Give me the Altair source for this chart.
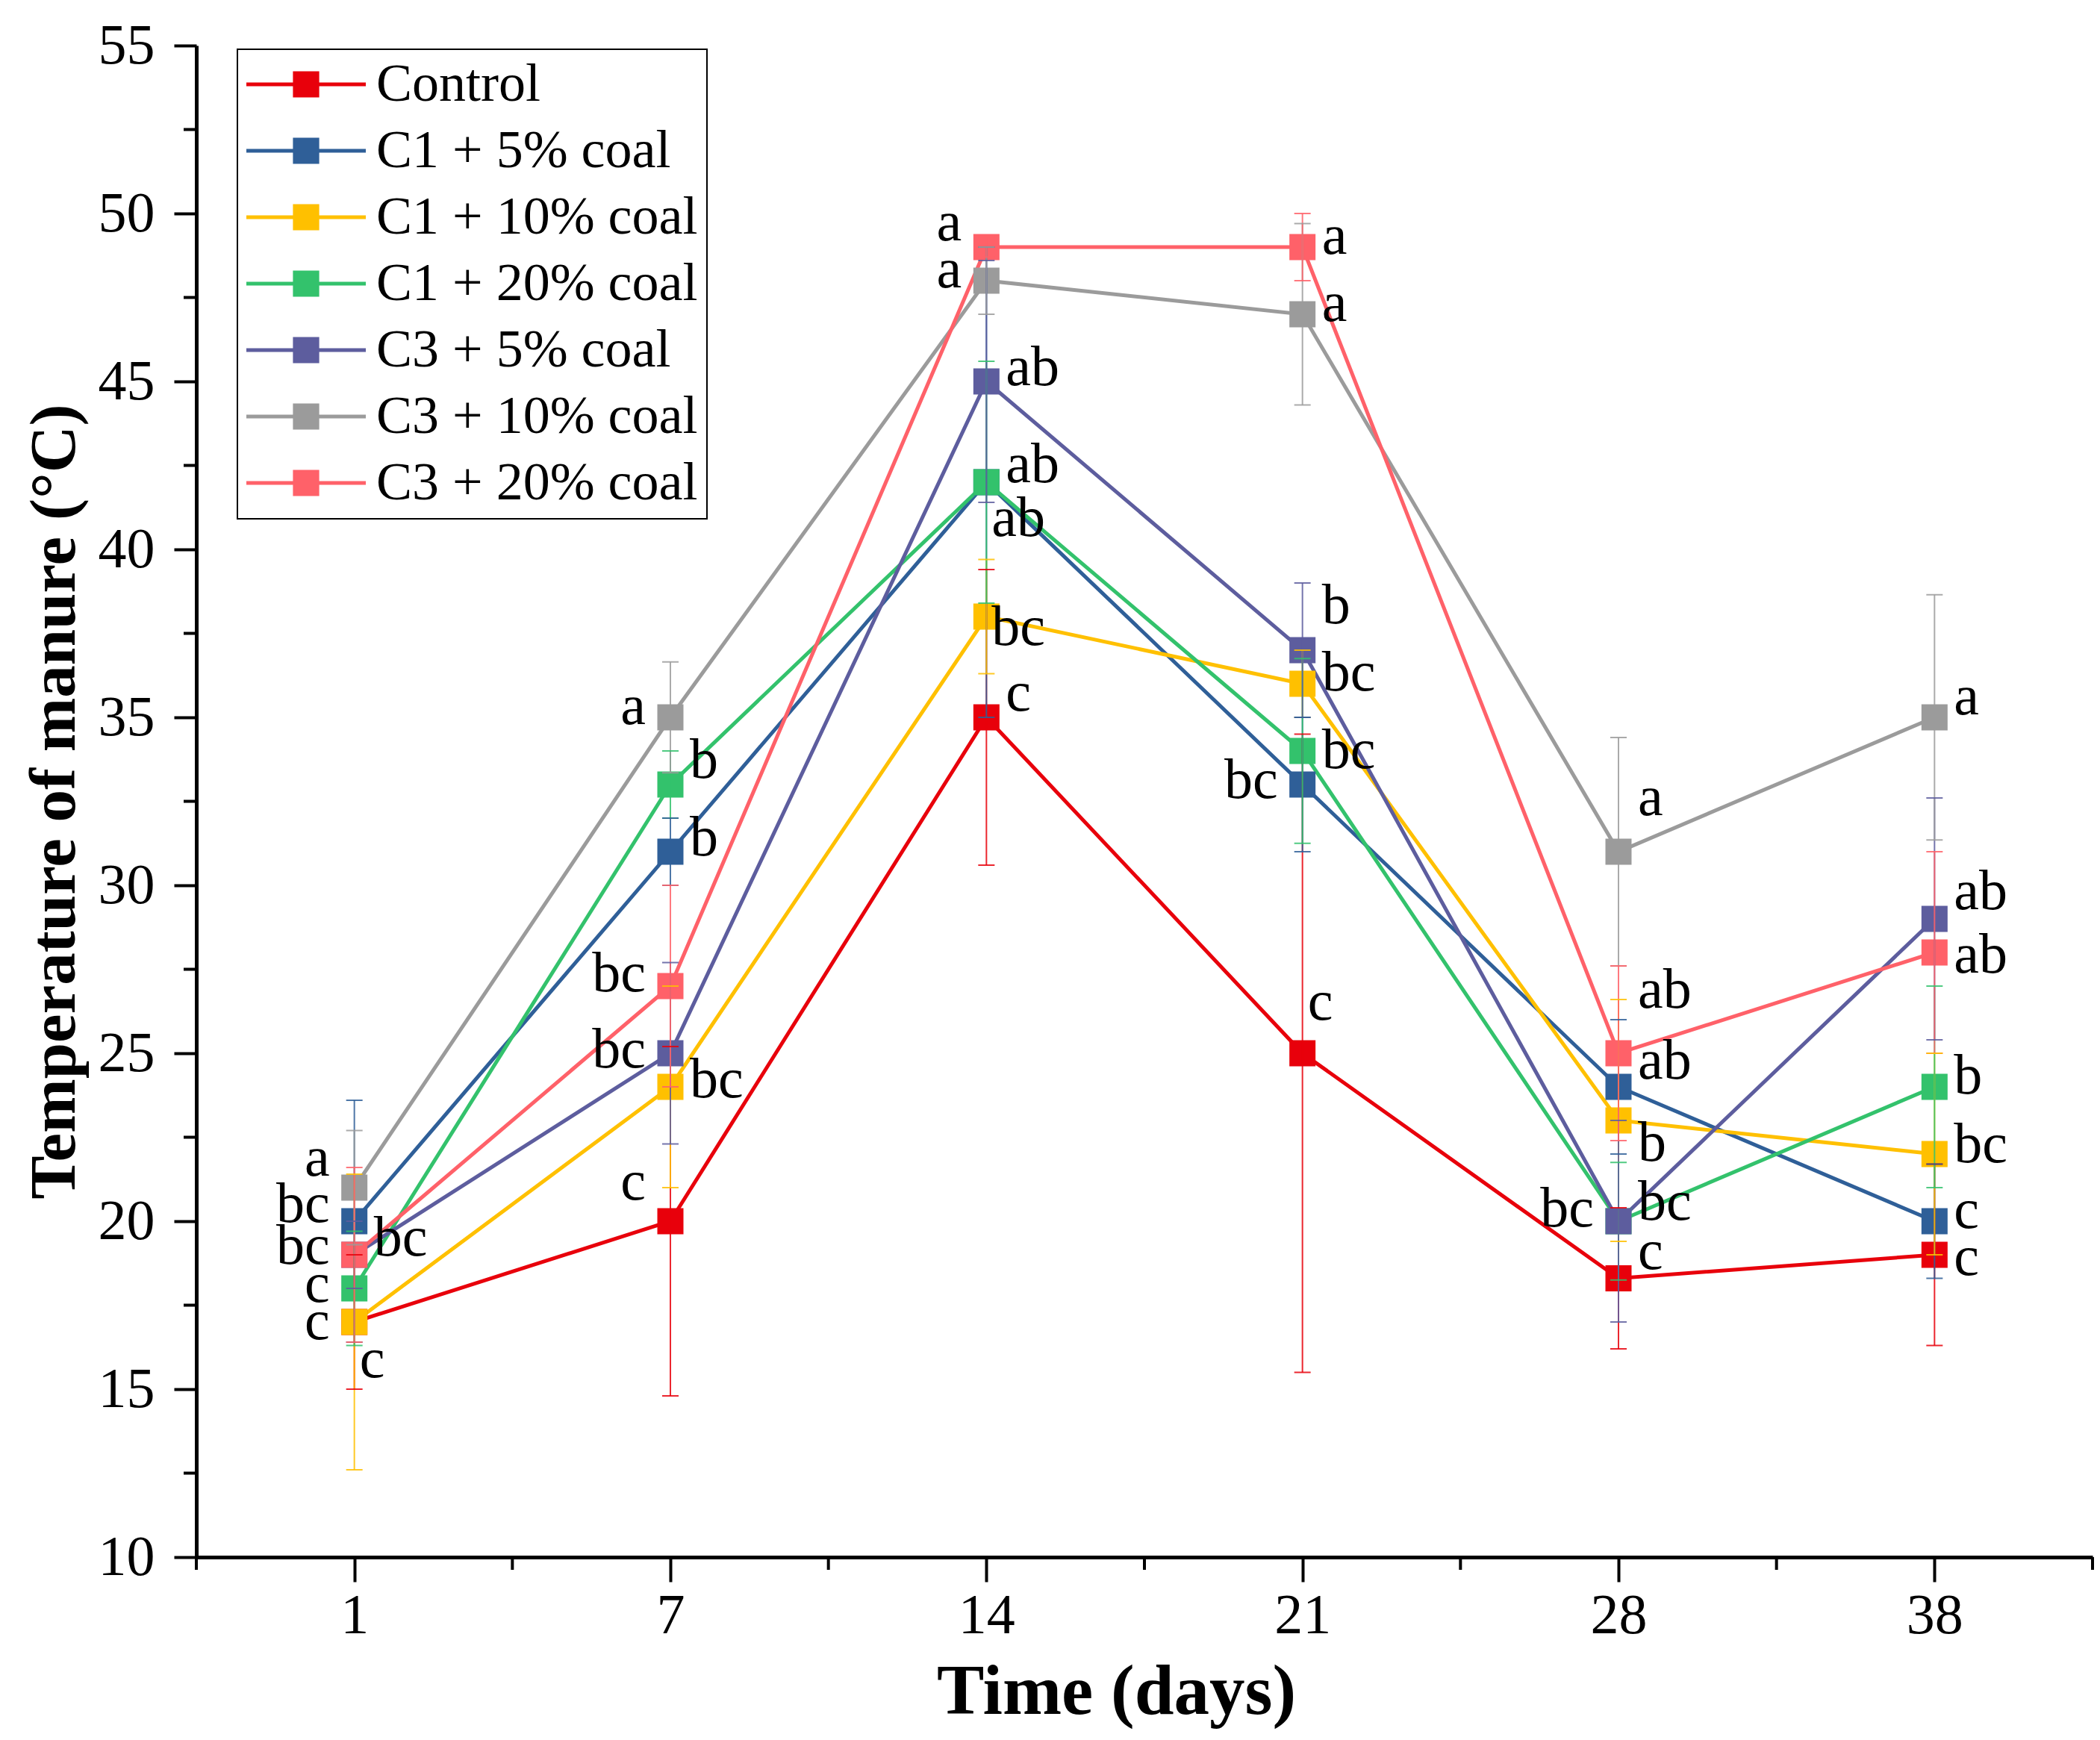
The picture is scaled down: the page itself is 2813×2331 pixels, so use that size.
import altair as alt
import pandas as pd

FONT = "Liberation Serif"

days = ["1", "7", "14", "21", "28", "38"]
series = ["Control", "C1 + 5% coal", "C1 + 10% coal", "C1 + 20% coal",
          "C3 + 5% coal", "C3 + 10% coal", "C3 + 20% coal"]
colors = ["#E8000B", "#2F5F98", "#FFC000", "#33C26C", "#5D5D9E", "#9B9B9B", "#FF6169"]

# mean temperatures (°C)
control = [17, 20, 35, 25, 18.3, 19]
c1_5 = [20, 31, 42, 33, 24, 20]
c1_10 = [17, 24, 38, 36, 23, 22]
c1_20 = [18, 33, 42, 34, 20, 24]
c3_5 = [19, 25, 45, 37, 20, 29]
c3_10 = [21, 35, 48, 47, 31, 35]
c3_20 = [19, 27, 49, 49, 25, 28]

# error (±)
control_err = [2.0, 5.2, 4.4, 9.5, 2.1, 2.7]
c1_5_err = [3.6, 1.0, 7.0, 2.0, 2.0, 1.7]
c1_10_err = [4.4, 3.0, 1.7, 1.0, 3.6, 3.0]
c1_20_err = [1.7, 1.0, 3.6, 2.75, 1.75, 3.0]
c3_5_err = [1.0, 2.7, 3.6, 2.0, 3.0, 3.6]
c3_10_err = [1.7, 1.65, 1.0, 2.7, 3.4, 3.65]
c3_20_err = [2.6, 3.0, 0.3, 1.0, 2.6, 3.0]

# significance letters, their baseline height (°C) and side (L left, R right, N near)
control_let = ["c", "c", "c", "c", "c", "c"]
c1_5_let = ["bc", "b", "ab", "bc", "ab", "c"]
c1_10_let = ["c", "bc", "bc", "bc", "b", "bc"]
c1_20_let = ["c", "b", "ab", "bc", "bc", "b"]
c3_5_let = ["bc", "bc", "ab", "b", "bc", "ab"]
c3_10_let = ["a", "a", "a", "a", "a", "a"]
c3_20_let = ["bc", "bc", "a", "a", "ab", "ab"]

control_ly = [15.36, 20.64, 35.2, 26.0, 18.58, 18.4]
c1_5_ly = [19.97, 30.9, 40.4, 32.6, 24.25, 19.8]
c1_10_ly = [16.48, 23.7, 37.16, 35.8, 21.8, 21.75]
c1_20_ly = [17.59, 33.2, 42.0, 33.5, 20.05, 23.8]
c3_5_ly = [18.98, 24.58, 44.9, 37.8, 19.85, 29.3]
c3_10_ly = [21.36, 34.8, 47.8, 46.8, 32.1, 35.1]
c3_20_ly = [18.73, 26.85, 49.2, 48.8, 26.35, 27.4]

control_side = ["N", "L", "R", "N", "R", "R"]
c1_5_side = ["L", "R", "N", "L", "R", "R"]
c1_10_side = ["L", "R", "N", "R", "R", "R"]
c1_20_side = ["L", "R", "R", "R", "R", "R"]
c3_5_side = ["R", "L", "R", "R", "L", "R"]
c3_10_side = ["L", "L", "L", "R", "R", "R"]
c3_20_side = ["L", "L", "L", "R", "R", "R"]

means = [control, c1_5, c1_10, c1_20, c3_5, c3_10, c3_20]
errs = [control_err, c1_5_err, c1_10_err, c1_20_err, c3_5_err, c3_10_err, c3_20_err]
lets = [control_let, c1_5_let, c1_10_let, c1_20_let, c3_5_let, c3_10_let, c3_20_let]
lys = [control_ly, c1_5_ly, c1_10_ly, c1_20_ly, c3_5_ly, c3_10_ly, c3_20_ly]
sides = [control_side, c1_5_side, c1_10_side, c1_20_side, c3_5_side, c3_10_side, c3_20_side]

rows = []
for k, s in enumerate(series):
    for i in range(len(days)):
        m, e = means[k][i], errs[k][i]
        rows.append({"series": s, "order": k, "x": i, "value": m,
                     "lo": m - e, "hi": m + e, "letter": lets[k][i],
                     "ly": lys[k][i], "side": sides[k][i]})
df = pd.DataFrame(rows)

W, H = 2540, 2025
label_expr = "[" + ",".join("'%s'" % d for d in days) + "][datum.value]"

color_scale = alt.Scale(domain=series, range=colors)
x_scale = alt.Scale(domain=[-0.5, len(days) - 0.5], nice=False, zero=False)
y_scale = alt.Scale(domain=[10, 55], nice=False, zero=False)

x_axis = alt.Axis(values=list(range(len(days))), labelExpr=label_expr,
                  title="Time (days)", tickSize=33, labelPadding=8,
                  titleFontSize=95, titlePadding=18, titleX=1232, labelFlush=False)
y_axis = alt.Axis(values=list(range(10, 56, 5)), title="Temperature of manure (°C)",
                  tickSize=30, labelPadding=26, titleFontSize=87, titlePadding=14,
                  labelFlush=False)

legend_path = ("M-1,-0.03L1,-0.03L1,0.03L-1,0.03Z "
               "M-0.22,-0.22L0.22,-0.22L0.22,0.22L-0.22,0.22Z")
legend = alt.Legend(title=None, orient="none", legendX=55, legendY=5,
                    symbolType=legend_path, symbolSize=25600,
                    symbolStrokeWidth=0, symbolOpacity=1,
                    labelFont=FONT, labelFontSize=72, labelOffset=14, labelLimit=2000,
                    labelColor="black", strokeColor="black",
                    fillColor="white", padding=12, rowPadding=17,
                    clipHeight=70)


def XE(f):
    return alt.X(f, scale=x_scale, axis=x_axis)


def YE(f):
    return alt.Y(f, scale=y_scale, axis=y_axis)


COL = alt.Color("series:N", scale=color_scale, legend=legend)

base = alt.Chart(df)

lines = base.mark_line(strokeWidth=5).encode(
    x=XE("x:Q"), y=YE("value:Q"), detail="series:N", color=COL)

points = base.mark_point(shape="square", filled=True, size=1225, opacity=1).encode(
    x=XE("x:Q"), y=YE("value:Q"), color=COL)

err = base.mark_rule(strokeWidth=2, opacity=0.85).encode(
    x=XE("x:Q"), y=YE("lo:Q"), y2="hi:Q", color=COL)

cap_lo = base.mark_tick(orient="horizontal", size=22, thickness=2, opacity=0.85).encode(
    x=XE("x:Q"), y=YE("lo:Q"), color=COL)
cap_hi = base.mark_tick(orient="horizontal", size=22, thickness=2, opacity=0.85).encode(
    x=XE("x:Q"), y=YE("hi:Q"), color=COL)

txt_kw = dict(baseline="alphabetic", font=FONT, fontSize=76, color="black")
txt_enc = dict(x=XE("x:Q"), y=YE("ly:Q"), text="letter:N")
txt_r = base.mark_text(align="left", dx=26, **txt_kw).encode(**txt_enc).transform_filter(alt.datum.side == "R")
txt_l = base.mark_text(align="right", dx=-33, **txt_kw).encode(**txt_enc).transform_filter(alt.datum.side == "L")
txt_n = base.mark_text(align="left", dx=7, **txt_kw).encode(**txt_enc).transform_filter(alt.datum.side == "N")

# minor ticks
xminor = alt.Chart(pd.DataFrame({"m": [i - 0.5 for i in range(len(days) + 1)]})).mark_rule(
    strokeWidth=4, color="black").encode(
    x=XE("m:Q"), y=alt.value(H), y2=alt.value(H + 17))
yminor = alt.Chart(pd.DataFrame({"m": [v + 2.5 for v in range(10, 55, 5)]})).mark_rule(
    strokeWidth=4, color="black").encode(
    y=YE("m:Q"), x=alt.value(0), x2=alt.value(-17))

chart = alt.layer(lines, points, err, cap_lo, cap_hi, txt_r, txt_l, txt_n, xminor, yminor).properties(
    width=W, height=H,
    padding={"left": 255, "top": 53, "right": 2, "bottom": 237},
    autosize="none", background="white"
).configure_view(stroke=None).configure_axis(
    grid=False, domainColor="black", domainWidth=5, tickColor="black", tickWidth=4,
    labelFont=FONT, labelFontSize=76, labelColor="black",
    titleFont=FONT, titleFontWeight="bold", titleColor="black"
).configure_legend(strokeWidth=2)

chart.save("out.html", embed_options={"renderer": "svg", "actions": False})
